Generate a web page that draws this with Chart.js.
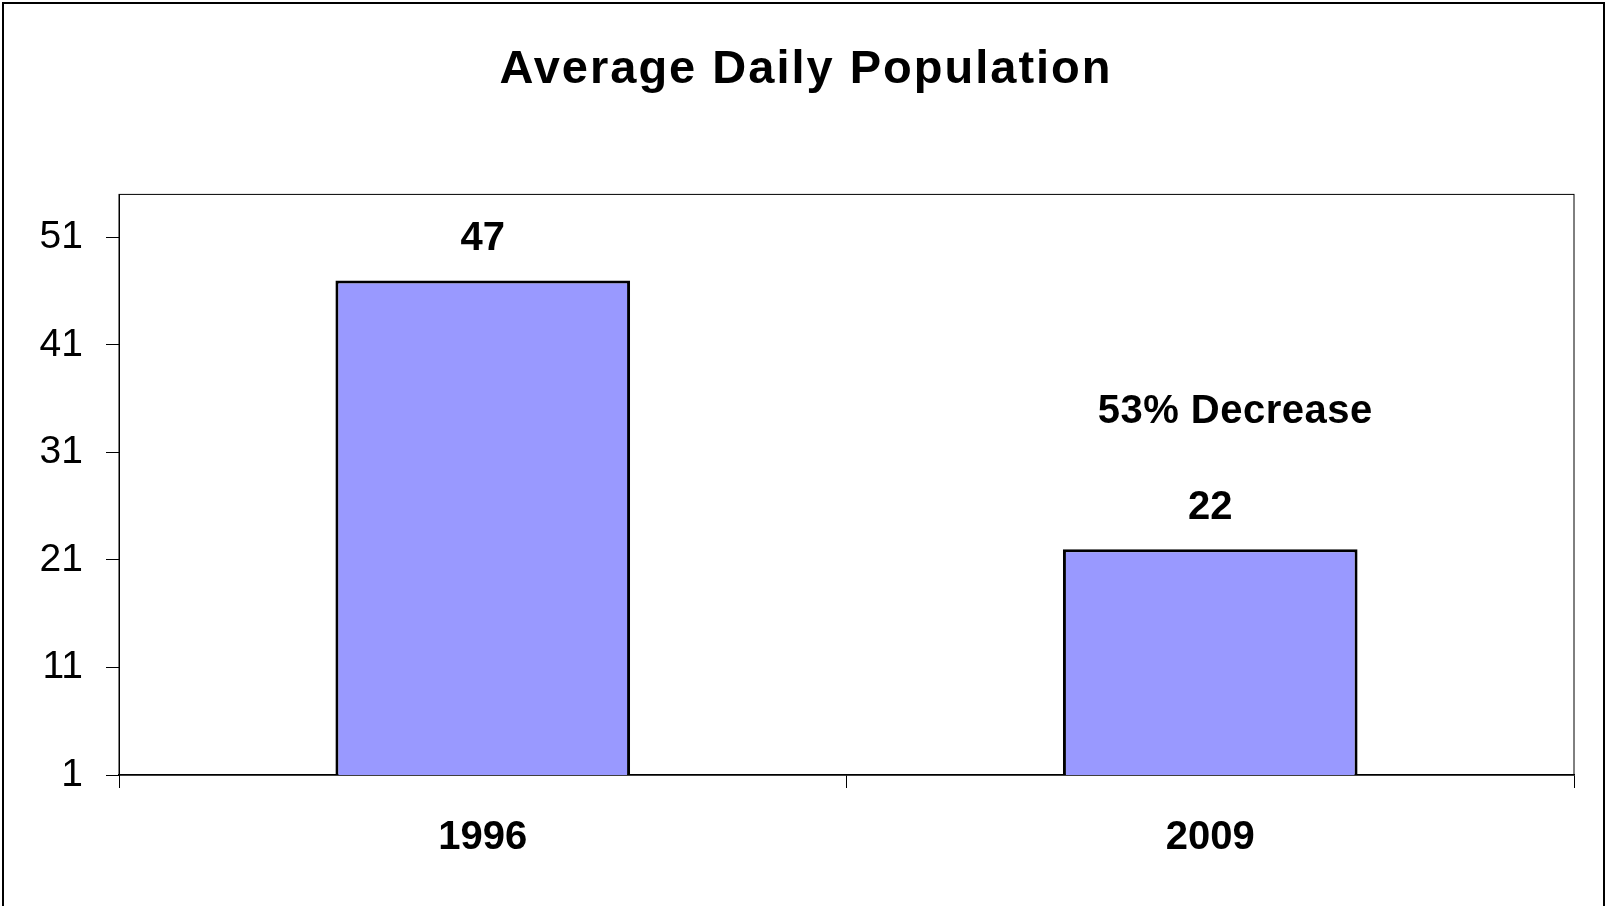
<!DOCTYPE html>
<html>
<head>
<meta charset="utf-8">
<script src="https://cdn.jsdelivr.net/npm/chart.js@4/dist/chart.umd.min.js"></script>
<style>
  html, body { margin: 0; padding: 0; background: #fff; }
  #wrap { width: 1606px; height: 906px; }
</style>
</head>
<body>
<div id="wrap"><canvas id="population-chart" width="1606" height="906"></canvas></div>
<script>
const years = ['1996', '2009']
const population = [47, 22]
const yTicks = [1, 11, 21, 31, 41, 51]
const yMin = 1
const yMax = 55
const noteText = '53% Decrease'
const noteValue = 34.8

const ctx = document.getElementById('population-chart').getContext('2d')

// outer frame + plot area box
var frame = {
    id: 'frame',
    beforeDraw(chart) {
        const { ctx, chartArea: { left, top, right, bottom } } = chart
        ctx.save()
        ctx.fillStyle = '#fff'
        ctx.fillRect(0, 0, chart.width, chart.height)
        ctx.strokeStyle = '#000'
        ctx.lineWidth = 2
        ctx.strokeRect(3, 3, 1601, 940)
        ctx.lineWidth = 1
        ctx.strokeRect(left, top, right - left, bottom - top)
        ctx.restore()
        // slightly spaced title like the original
        const tb = chart.titleBlock
        if (tb && !tb._spaced) {
            const orig = tb.draw.bind(tb)
            tb.draw = function () {
                ctx.save()
                ctx.letterSpacing = '2px'
                ctx.translate(19, 0)
                orig()
                ctx.restore()
            }
            tb._spaced = true
        }
    }
}

var valueLabels = {
    id: 'valueLabels',
    afterDatasetsDraw(chart) {
        const { ctx, scales: { y } } = chart
        const bars = chart.getDatasetMeta(0).data
        ctx.save()
        ctx.font = 'bold 40px "Liberation Sans", Arial, sans-serif'
        ctx.fillStyle = '#000'
        ctx.textAlign = 'center'
        ctx.textBaseline = 'middle'
        bars.forEach((bar, i) => {
            ctx.fillText(String(population[i]), bar.x, bar.y - 41)
        })
        const last = bars[bars.length - 1]
        ctx.letterSpacing = '0.5px'
        ctx.fillText(noteText, last.x + 25, y.getPixelForValue(noteValue))
        ctx.restore()
    }
}

var MyChart = new Chart(ctx, {
    type: 'bar',
    data: {
        labels: years,
        datasets: [{
            label: 'Average Daily Population',
            data: population,
            backgroundColor: '#9999ff',
            borderColor: '#000',
            borderWidth: 3,
            borderSkipped: 'start',
            barPercentage: 0.405,
            categoryPercentage: 1
        }]
    },
    options: {
        responsive: false,
        animation: false,
        layout: { padding: { left: 0, right: 32, top: 0, bottom: 0 } },
        plugins: {
            legend: { display: false },
            tooltip: { enabled: false },
            title: {
                display: true,
                text: 'Average Daily Population',
                color: '#000',
                font: { family: '"Liberation Sans", Arial, sans-serif', size: 47, weight: 'bold', lineHeight: 1.2 },
                padding: { top: 42, bottom: 96 }
            }
        },
        scales: {
            x: {
                grid: { display: true, offset: true, drawOnChartArea: false, tickLength: 13, color: '#000' },
                border: { display: true, color: '#000', width: 1.5 },
                ticks: {
                    color: '#000',
                    padding: 26,
                    font: { family: '"Liberation Sans", Arial, sans-serif', size: 40, weight: 'bold' }
                },
                afterFit(scale) { scale.height = 131 }
            },
            y: {
                min: yMin,
                max: yMax,
                afterBuildTicks(scale) {
                    scale.ticks = yTicks.map(v => ({ value: v }))
                },
                grid: { display: true, drawOnChartArea: false, tickLength: 13, color: '#000' },
                border: { display: true, color: '#000', width: 1 },
                ticks: {
                    color: '#000',
                    padding: 23,
                    font: { family: '"Liberation Sans", Arial, sans-serif', size: 39 }
                },
                afterFit(scale) { scale.width = 119 }
            }
        }
    },
    plugins: [frame, valueLabels]
})
</script>
</body>
</html>
